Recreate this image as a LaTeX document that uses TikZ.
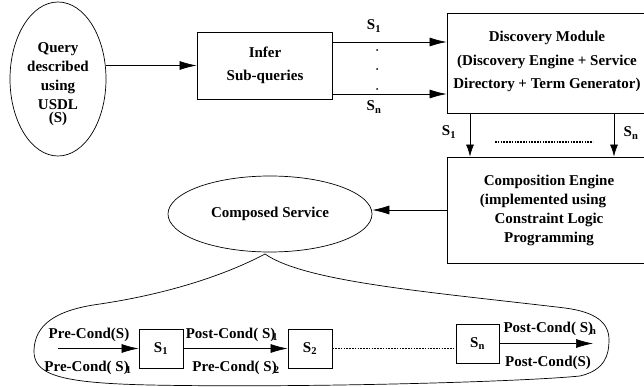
\documentclass[tikz,border=0pt]{standalone}
\usepackage{fontspec}
\setmainfont{Liberation Serif}
\usetikzlibrary{arrows.meta,shapes.geometric}
\begin{document}
\begin{tikzpicture}[x=1pt,y=-1pt,
  every node/.style={font=\fontsize{15}{19}\selectfont\bfseries, inner sep=0pt},
  box/.style={draw, line width=0.9pt, rectangle},
  oval/.style={draw, ellipse, line width=0.7pt},
  arr/.style={line width=0.7pt, -{Latex[length=17pt,width=9pt]}},
  darr/.style={line width=0.7pt, -{Latex[length=12pt,width=8pt]}},
  dotline/.style={line width=1.6pt, dash pattern=on 1.6pt off 1.2pt}]
\clip (0,0) rectangle (644,387);
% query ellipse
\node[oval, minimum width=96pt, minimum height=154pt] (q) at (58,79) {};
\node[align=center] (qt) at (58,84) {Query\\described\\using\\USDL\\[-6pt](S)};
% infer box
\node[box, minimum width=135pt, minimum height=67pt] (inf) at (264.5,65.5) {};
\node[align=center] (inft) at (265,65) {Infer\\[4pt]Sub-queries};
\draw[arr] (q.east |- inf.west) -- (inf.west);
% discovery box
\node[box, minimum width=213pt, minimum height=100pt] (disc) at (553.5,63) {};
\node[align=center] (disct) at (547,61) {Discovery Module\\[5pt](Discovery Engine + Service\\[4pt]Directory + Term Generator)};
\coordinate (ya) at (0,42);
\coordinate (yb) at (0,94);
\draw[arr] (inf.east |- ya) -- (disc.west |- ya);
\draw[arr] (inf.east |- yb) -- (disc.west |- yb);
\node (la) at (374,26) {S\textsubscript{1}};
\node (lb) at (374,107) {S\textsubscript{n}};
\fill (377,50) circle (1pt) (377,69) circle (1pt) (377,89) circle (1pt);
% composition box
\node[box, minimum width=213pt, minimum height=106pt] (comp) at (553.5,210) {};
\node[align=center] (compt) at (549,210) {Composition Engine\\(implemented using\kern12pt\\Constraint Logic\\Programming};
\coordinate (xa) at (470,0);
\coordinate (xb) at (614,0);
\draw[darr] (disc.south -| xa) -- (comp.north -| xa);
\draw[darr] (disc.south -| xb) -- (comp.north -| xb);
\node (lc) at (449,132) {S\textsubscript{1}};
\node (ld) at (631,133) {S\textsubscript{n}};
\coordinate (da) at (495,142);
\coordinate (db) at (593,142);
\draw[dotline] (da) -- (db);
% composed service
\node[oval, minimum width=204pt, minimum height=76pt] (cs) at (270,214) {Composed Service};
\draw[arr] (comp.west) -- (cs.east |- comp.west);
% blob
\draw[line width=0.7pt] (265,254) .. controls (235,270) and (180,292) .. (100,304)
  .. controls (55,310) and (35,325) .. (34,350)
  .. controls (33,375) and (60,383) .. (150,385)
  .. controls (300,388) and (520,382) .. (580,376)
  .. controls (605,370) and (609,355) .. (609,340)
  .. controls (609,322) and (595,312) .. (565,308)
  .. controls (430,292) and (305,282) .. cycle;
% bottom chain
\node[box, minimum width=44pt, minimum height=39pt] (s1) at (161,348.5) {S\textsubscript{1}};
\node[box, minimum width=44pt, minimum height=39pt] (s2) at (310,348.5) {S\textsubscript{2}};
\node[box, minimum width=43pt, minimum height=39pt] (sn) at (477.5,343.5) {S\textsubscript{n}};
\coordinate (in) at (58,348.5);
\coordinate (out) at (593,343.5);
\draw[arr] (in) -- (s1.west);
\draw[arr] (s1.east) -- (s2.west);
\draw[dotline] (s2.east) -- (s2.east -| sn.west);
\draw[arr] (sn.east) -- (out);
\node (p1) at (89,335) {Pre-Cond(S)};
\node (p2) at (88,368) {Pre-Cond( S)\kern-3pt\textsubscript{1}};
\node (p3) at (232,335) {Post-Cond( S)\kern-3pt\textsubscript{1}};
\node (p4) at (236,368) {Pre-Cond( S)\kern-3pt\textsubscript{2}};
\node (p5) at (550,329) {Post-Cond( S)\kern-3pt\textsubscript{n}};
\node (p6) at (548,363) {Post-Cond(S)};
\end{tikzpicture}
\end{document}
